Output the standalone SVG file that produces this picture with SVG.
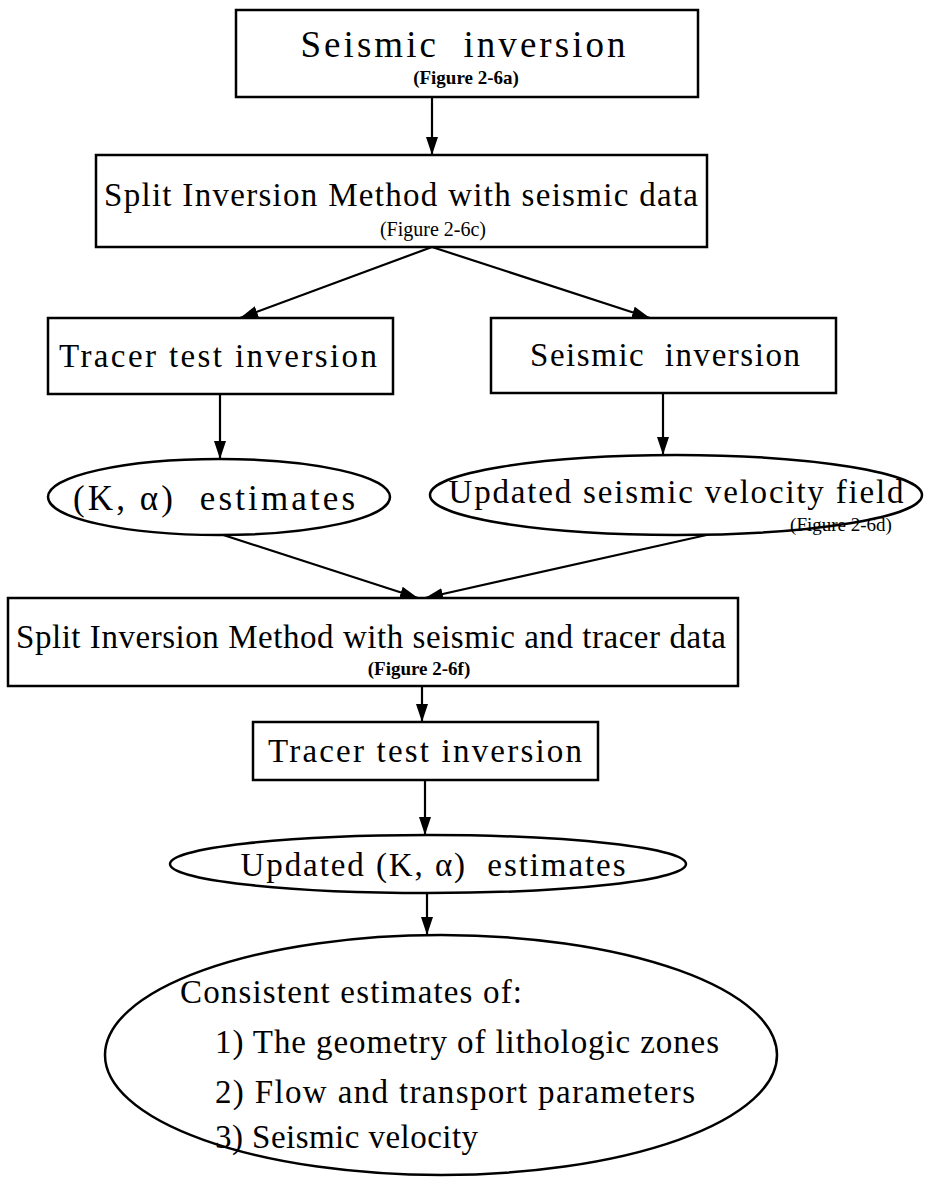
<svg xmlns="http://www.w3.org/2000/svg" width="925" height="1179" viewBox="0 0 925 1179">
<style>
.bx{fill:#fff;stroke:#000;stroke-width:2.5}
.t{font-family:"Liberation Serif","Times New Roman",serif;font-size:33px;fill:#000;white-space:pre}
.big{font-size:37px}
.mid{font-size:35px}
.s{font-family:"Liberation Serif","Times New Roman",serif;font-size:20px;fill:#000}
.s19{font-size:19px}
.sb{font-family:"Liberation Serif","Times New Roman",serif;font-size:19px;font-weight:bold;fill:#000}
.c{stroke:#000;stroke-width:2.2;fill:none}
</style>
<defs>
<marker id="ah" viewBox="0 0 18 12" refX="18" refY="6" markerWidth="18" markerHeight="12" orient="auto" markerUnits="userSpaceOnUse"><path d="M0,0 L18,6 L0,12 z" fill="#000"/></marker>
</defs>
<rect width="925" height="1179" fill="#fff"/>
<g id="connectors">
<line class="c" x1="432" y1="97" x2="432" y2="155" marker-end="url(#ah)"/>
<line class="c" x1="432" y1="247" x2="240" y2="318" marker-end="url(#ah)"/>
<line class="c" x1="432" y1="247" x2="650" y2="318" marker-end="url(#ah)"/>
<line class="c" x1="220" y1="394" x2="220" y2="459" marker-end="url(#ah)"/>
<line class="c" x1="663" y1="393" x2="663" y2="455" marker-end="url(#ah)"/>
<line class="c" x1="208" y1="530" x2="418" y2="598" marker-end="url(#ah)"/>
<line class="c" x1="720" y1="532" x2="425" y2="598" marker-end="url(#ah)"/>
<line class="c" x1="422" y1="686" x2="422" y2="722" marker-end="url(#ah)"/>
<line class="c" x1="425" y1="780" x2="425" y2="835" marker-end="url(#ah)"/>
<line class="c" x1="427" y1="892" x2="427" y2="935" marker-end="url(#ah)"/>
</g>
<g id="n1">
<rect class="bx" x="236" y="10" width="462" height="87"/>
<text class="t big" x="463" y="57" text-anchor="middle" textLength="325" xml:space="preserve">Seismic  inversion</text>
<text class="sb" x="466" y="84" text-anchor="middle">(Figure 2-6a)</text>
</g>
<g id="n2">
<rect class="bx" x="96" y="155" width="611" height="92"/>
<text class="t" x="104" y="206" textLength="594">Split Inversion Method with seismic data</text>
<text class="s" x="433" y="236" text-anchor="middle">(Figure 2-6c)</text>
</g>
<g id="n3">
<rect class="bx" x="48" y="318" width="345" height="76"/>
<text class="t" x="218" y="367" text-anchor="middle" textLength="318">Tracer test inversion</text>
</g>
<g id="n4">
<rect class="bx" x="491" y="318" width="345" height="75"/>
<text class="t" x="665" y="366" text-anchor="middle" textLength="270" xml:space="preserve">Seismic  inversion</text>
</g>
<g id="n5">
<ellipse class="bx" cx="219" cy="497" rx="171" ry="38"/>
<text class="t mid" x="214" y="510" text-anchor="middle" textLength="282" xml:space="preserve">(K, α)  estimates</text>
</g>
<g id="n6">
<ellipse class="bx" cx="676" cy="495" rx="246" ry="40"/>
<text class="t" x="676" y="503" text-anchor="middle" textLength="455">Updated seismic velocity field</text>
<text class="s s19" x="841" y="531" text-anchor="middle">(Figure 2-6d)</text>
</g>
<g id="n7">
<rect class="bx" x="8" y="598" width="730" height="88"/>
<text class="t" x="16" y="648" textLength="710">Split Inversion Method with seismic and tracer data</text>
<text class="sb" x="419" y="675" text-anchor="middle">(Figure 2-6f)</text>
</g>
<g id="n8">
<rect class="bx" x="253" y="722" width="345" height="58"/>
<text class="t" x="425" y="762" text-anchor="middle" textLength="314">Tracer test inversion</text>
</g>
<g id="n9">
<ellipse class="bx" cx="428" cy="864" rx="258" ry="29"/>
<text class="t" x="433" y="876" text-anchor="middle" textLength="385" xml:space="preserve">Updated (K, α)  estimates</text>
</g>
<g id="n10">
<ellipse class="bx" cx="441" cy="1055" rx="336" ry="120"/>
<text class="t" x="180" y="1003" textLength="342">Consistent estimates of:</text>
<text class="t" x="215" y="1053" textLength="504">1) The geometry of lithologic zones</text>
<text class="t" x="215" y="1103" textLength="480">2) Flow and transport parameters</text>
<text class="t" x="215" y="1148" textLength="263">3) Seismic velocity</text>
</g>
</svg>
